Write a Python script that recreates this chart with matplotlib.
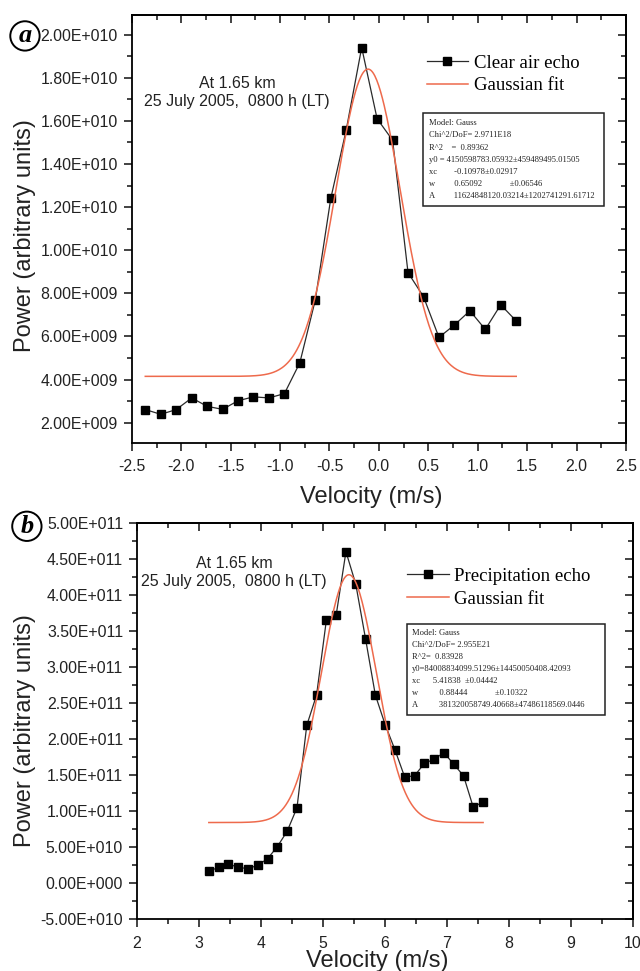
import numpy as np
import matplotlib
matplotlib.use('Agg')
import matplotlib.pyplot as plt
from matplotlib.ticker import MultipleLocator, FuncFormatter
from matplotlib.patches import Rectangle

# panel a: clear air echo
velocity_a = [-2.364, -2.207, -2.051, -1.894, -1.738, -1.582, -1.425, -1.269, -1.113, -0.956,
              -0.800, -0.643, -0.487, -0.331, -0.174, -0.018, 0.139, 0.295, 0.451, 0.608,
              0.764, 0.921, 1.077, 1.233, 1.390]
power_a = [2.61e9, 2.39e9, 2.61e9, 3.15e9, 2.76e9, 2.62e9, 3.02e9, 3.20e9, 3.15e9, 3.35e9,
           4.78e9, 7.70e9, 1.240e10, 1.557e10, 1.940e10, 1.610e10, 1.510e10, 8.96e9, 7.85e9, 5.96e9,
           6.53e9, 7.19e9, 6.33e9, 7.47e9, 6.72e9]
fit_a = [4150598783.05932, -0.10978, 0.65092, 11624848120.03214]  # y0, xc, w, A
box_a = ['Model: Gauss', 'Chi^2/DoF= 2.9711E18', 'R^2    =  0.89362',
         'y0 = 4150598783.05932\u00b1459489495.01505',
         'xc        -0.10978\u00b10.02917',
         'w         0.65092             \u00b10.06546',
         'A         11624848120.03214\u00b11202741291.61712']

# panel b: precipitation echo
velocity_b = [3.159, 3.317, 3.475, 3.633, 3.791, 3.949, 4.107, 4.265, 4.423, 4.581,
              4.739, 4.897, 5.055, 5.213, 5.371, 5.529, 5.687, 5.845, 6.003, 6.161,
              6.319, 6.477, 6.635, 6.793, 6.951, 7.109, 7.267, 7.425, 7.583]
power_b = [1.63e10, 2.18e10, 2.65e10, 2.18e10, 2.00e10, 2.46e10, 3.39e10, 5.06e10, 7.20e10, 1.045e11,
           2.19e11, 2.61e11, 3.65e11, 3.72e11, 4.60e11, 4.15e11, 3.39e11, 2.61e11, 2.20e11, 1.85e11,
           1.47e11, 1.49e11, 1.66e11, 1.72e11, 1.81e11, 1.65e11, 1.49e11, 1.05e11, 1.13e11]
fit_b = [84008834099.51296, 5.41838, 0.88444, 381320058749.40668]
box_b = ['Model: Gauss', 'Chi^2/DoF= 2.955E21', 'R^2=  0.83928',
         'y0=84008834099.51296\u00b114450050408.42093',
         'xc      5.41838  \u00b10.04442',
         'w          0.88444             \u00b10.10322',
         'A          381320058749.40668\u00b147486118569.0446']

SANS = 'Liberation Sans'
SERIF = 'Liberation Serif'


def gauss(x, y0, xc, w, A):
    return y0 + A / (w * np.sqrt(np.pi / 2)) * np.exp(-2 * ((x - xc) / w) ** 2)


def origin_fmt(v, pos):
    m, e = '{:.2E}'.format(v).split('E')
    return '{}E{}{:03d}'.format(m, e[0], abs(int(e)))


def draw_panel(ax, vel, pwr, fit, box, label, xlim, ylim, xmaj, ymaj, xfmt,
               leg_xy, note_xy, box_rect, box_val_x, ylab_xy, xlab_xy):
    xs = np.linspace(vel[0], vel[-1], 400)
    ax.plot(vel, pwr, color='#2a2a2a', lw=0.9, marker='s', ms=6.4,
            mfc='black', mec='black', label=label)
    ax.plot(xs, gauss(xs, *fit), color='#ee6a4c', lw=1.1, label='Gaussian fit')
    ax.set_xlim(*xlim)
    ax.set_ylim(*ylim)
    ax.xaxis.set_major_locator(MultipleLocator(xmaj))
    ax.xaxis.set_minor_locator(MultipleLocator(xmaj / 2))
    ax.yaxis.set_major_locator(MultipleLocator(ymaj))
    ax.yaxis.set_minor_locator(MultipleLocator(ymaj / 2))
    ax.yaxis.set_major_formatter(FuncFormatter(origin_fmt))
    ax.xaxis.set_major_formatter(FuncFormatter(xfmt))
    for s in ax.spines.values():
        s.set_linewidth(1.3)
    ax.tick_params(which='both', direction='out', width=1.2, color='#222',
                   labelsize=11.4, labelcolor='#222')
    ax.tick_params(which='major', length=6)
    ax.tick_params(which='minor', length=3.5)
    ax.tick_params(axis='x', which='major', pad=6)
    ax.tick_params(axis='y', which='major', pad=4)
    for t in ax.get_xticklabels() + ax.get_yticklabels():
        t.set_fontfamily(SANS)
    # mirrored inward ticks on top / right, Origin style
    sec_x = ax.secondary_xaxis('top')
    sec_x.xaxis.set_major_locator(MultipleLocator(xmaj))
    sec_x.xaxis.set_minor_locator(MultipleLocator(xmaj / 2))
    sec_x.tick_params(which='both', direction='in', labeltop=False, width=1.2, color='#222')
    sec_x.tick_params(which='major', length=6)
    sec_x.tick_params(which='minor', length=3.5)
    sec_y = ax.secondary_yaxis('right')
    sec_y.yaxis.set_major_locator(MultipleLocator(ymaj))
    sec_y.yaxis.set_minor_locator(MultipleLocator(ymaj / 2))
    sec_y.tick_params(which='both', direction='in', labelright=False, width=1.2, color='#222')
    sec_y.tick_params(which='major', length=6)
    sec_y.tick_params(which='minor', length=3.5)
    for sa in (sec_x, sec_y):
        for s in sa.spines.values():
            s.set_linewidth(1.3)

    ax.set_ylabel('Power (arbitrary units)', fontsize=17, family=SANS, color='#222')
    ax.yaxis.set_label_coords(*ylab_xy)
    ax.set_xlabel('Velocity (m/s)', fontsize=17, family=SANS, color='#222')
    ax.xaxis.set_label_coords(*xlab_xy)

    ax.legend(loc='upper left', bbox_to_anchor=leg_xy, frameon=False,
              prop={'family': SERIF, 'size': 13.5}, handlelength=2.2,
              handletextpad=0.3, labelspacing=0.3, borderpad=0, borderaxespad=0)

    ax.text(note_xy[0], note_xy[1], 'At 1.65 km\n25 July 2005,  0800 h (LT)',
            transform=ax.transAxes, ha='center', va='center', fontsize=11.5,
            family=SANS, color='#222', linespacing=1.25)

    x0, y0, x1, y1 = box_rect
    ax.add_patch(Rectangle((x0, y0), x1 - x0, y1 - y0, transform=ax.transAxes,
                           fill=False, ec='#222', lw=1.1, zorder=5))
    step = (y1 - y0) / (len(box) + 0.6)
    for i, line in enumerate(box):
        ax.text(box_val_x, y1 - step * (i + 0.8), line, transform=ax.transAxes,
                ha='left', va='center', fontsize=6.1, family=SERIF, color='#222')


fig = plt.figure(figsize=(6.4, 9.71), dpi=100)
ax_a = fig.add_axes([0.206, 0.544, 0.772, 0.441])
ax_b = fig.add_axes([0.214, 0.0535, 0.775, 0.408])

draw_panel(ax_a, velocity_a, power_a, fit_a, box_a, 'Clear air echo',
           (-2.5, 2.5), (1.07e9, 2.093e10), 0.5, 2e9, lambda v, p: '{:.1f}'.format(v),
           (0.597, 0.907), (0.213, 0.818), (0.59, 0.553, 0.955, 0.769), 0.602,
           (-0.193, 0.485), (0.485, -0.1))
draw_panel(ax_b, velocity_b, power_b, fit_b, box_b, 'Precipitation echo',
           (2, 10), (-5e10, 5e11), 1, 5e10, lambda v, p: '{:g}'.format(v),
           (0.545, 0.887), (0.196, 0.874), (0.545, 0.515, 0.944, 0.745), 0.555,
           (-0.203, 0.475), (0.485, -0.078))

for (x, y, s) in [(0.039, 0.963, 'a'), (0.042, 0.458, 'b')]:
    fig.text(x, y, s, fontsize=19, family=SERIF, style='italic', weight='bold',
             ha='center', va='center',
             bbox=dict(boxstyle='circle,pad=0.12', fc='white', ec='black', lw=1.4))

fig.savefig('out.png', dpi=100)
